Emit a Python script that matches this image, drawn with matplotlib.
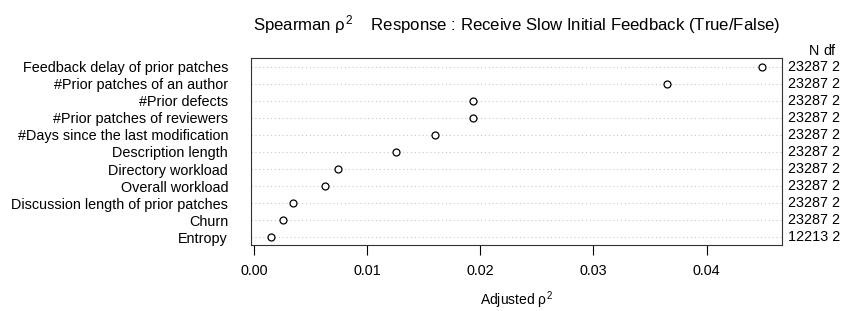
import matplotlib
matplotlib.use('Agg')
import matplotlib.pyplot as plt

# Datos (de arriba hacia abajo)
variables = ['Feedback delay of prior patches', '#Prior patches of an author',
             '#Prior defects', '#Prior patches of reviewers',
             '#Days since the last modification', 'Description length',
             'Directory workload', 'Overall workload',
             'Discussion length of prior patches', 'Churn', 'Entropy']
rho2 = [0.0449, 0.0365, 0.0194, 0.0194, 0.0160, 0.0126,
        0.0074, 0.0063, 0.0035, 0.0026, 0.0015]
n_obs = [23287, 23287, 23287, 23287, 23287, 23287,
         23287, 23287, 23287, 23287, 12213]
df = [2, 2, 2, 2, 2, 2, 2, 2, 2, 2, 2]
xticks = [0.00, 0.01, 0.02, 0.03, 0.04]

plt.rcParams['font.family'] = ['Liberation Sans', 'DejaVu Sans']
plt.rcParams['mathtext.fontset'] = 'custom'
plt.rcParams['mathtext.rm'] = 'Liberation Sans'
plt.rcParams['mathtext.it'] = 'Liberation Sans'

FS = 10.4
W, H = 842, 311
fig = plt.figure(figsize=(W / 100, H / 100), dpi=100)
ax = fig.add_axes([251 / W, 1 - 244.7 / H, (782 - 251) / W, (244.7 - 57.7) / H])

n = len(variables)
ypos = list(range(n, 0, -1))

# lineas punteadas de cada fila
for y in ypos:
    ax.axhline(y, color='#c8c8c8', lw=0.8, ls=(0, (1, 2.5)), zorder=1)

ax.plot(rho2, ypos, 'o', mfc='white', mec='black', ms=5.0, mew=0.9, ls='none', zorder=3)

ax.set_xlim(-0.00025, 0.04665)
ax.set_ylim(0.56, n + 0.53)
ax.set_yticks(ypos)
ax.set_yticklabels(variables, fontsize=FS)
ax.tick_params(axis='y', length=0, pad=16.5)
ax.set_xticks(xticks)
ax.set_xticklabels(['%.2f' % t for t in xticks], fontsize=FS)
ax.tick_params(axis='x', length=7, width=0.8, pad=7, direction='out')
for s in ax.spines.values():
    s.set_linewidth(0.8)
    s.set_color('#333333')

# columnas N y df a la derecha
for y, nn, d in zip(ypos, n_obs, df):
    ax.annotate('%d %d' % (nn, d), xy=(1, y), xycoords=('axes fraction', 'data'),
                xytext=(4, 0), textcoords='offset points', ha='left', va='center',
                fontsize=FS, annotation_clip=False)
fig.text(814.5 / W, 1 - 51 / H, 'N', ha='center', va='center', fontsize=FS)
fig.text(829 / W, 1 - 51 / H, 'df', ha='center', va='center', fontsize=FS)

fig.text(516.5 / W, 1 - 25 / H,
         r'Spearman $\rho^2$    Response : Receive Slow Initial Feedback (True/False)',
         ha='center', va='center', fontsize=12.1)
fig.text(516.5 / W, 1 - 300 / H, r'Adjusted $\rho^2$', ha='center', va='center',
         fontsize=10)

plt.savefig('out.png', dpi=100)
